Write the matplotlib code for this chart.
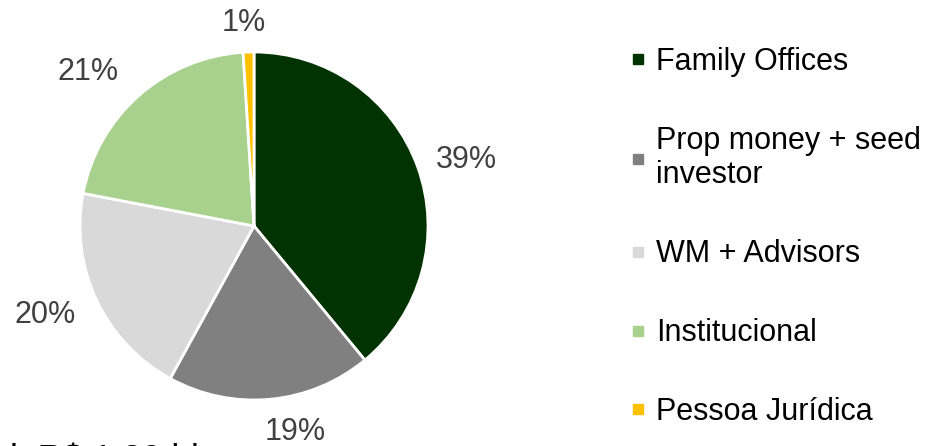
import matplotlib
matplotlib.use("Agg")
import matplotlib.pyplot as plt
from matplotlib.lines import Line2D
import numpy as np

# data
categories = ["Family Offices", "Prop money + seed\ninvestor", "WM + Advisors",
              "Institucional", "Pessoa Jurídica"]
shares = [39, 19, 20, 21, 1]
colors = ["#003300", "#808080", "#d9d9d9", "#a9d18e", "#ffc000"]
footer = "l: R$ 1,29 bi"

# label placement (radius multiple, angle nudge in degrees), like the source's "best fit"
label_dist = [1.276, 1.21, 1.305, 1.30, 1.17]
label_nudge = [-2.5, 6.0, -2.0, 5.7, 1.0]

plt.rcParams["font.family"] = ["Liberation Sans", "DejaVu Sans"]

W, H = 937, 446
fig = plt.figure(figsize=(W / 100, H / 100), dpi=100)

# pie axes: centre (254, 226) px, radius 174 px
cx, cy, r = 254, 226, 174
ax = fig.add_axes([(cx - r) / W, (H - cy - r) / H, 2 * r / W, 2 * r / H])
wedges, _, pct_texts = ax.pie(
    shares, colors=colors, startangle=90, counterclock=False,
    autopct=lambda p: f"{p:.0f}%", pctdistance=1.26,
    wedgeprops=dict(edgecolor="white", linewidth=2),
    textprops=dict(color="#404040", fontsize=22),
)
for w, t, d, n in zip(wedges, pct_texts, label_dist, label_nudge):
    a = np.deg2rad((w.theta1 + w.theta2) / 2 + n)
    t.set_position((d * np.cos(a), d * np.sin(a)))
    t.set_ha("center")
    t.set_va("center")
ax.set_xlim(-1, 1)
ax.set_ylim(-1, 1)
ax.set_aspect("equal")

handles = [Line2D([], [], linestyle="none", marker="s", markersize=7,
                  markerfacecolor=c, markeredgecolor=c) for c in colors]
leg = fig.legend(handles, categories, loc="upper left",
                 bbox_to_anchor=(630 / W, 1 - 47 / H), frameon=False,
                 fontsize=22, labelspacing=1.6, handlelength=0.55,
                 handletextpad=0.3, borderpad=0, borderaxespad=0)
for t in leg.get_texts():
    t.set_linespacing(1.2)

fig.text(10 / W, -23 / H, footer, fontsize=25.5, color="black",
         ha="left", va="baseline")

fig.savefig("out.png", dpi=100)
